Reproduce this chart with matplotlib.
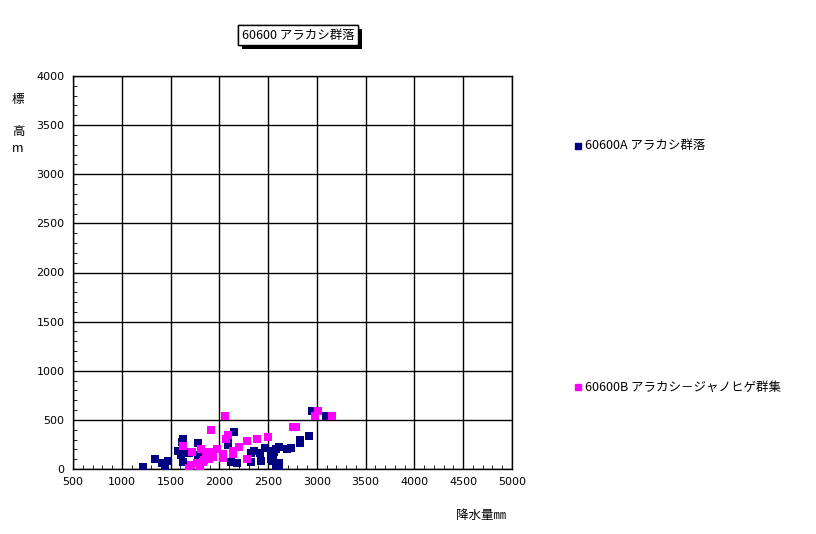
import matplotlib
matplotlib.use("Agg")
import matplotlib.pyplot as plt
from matplotlib.lines import Line2D
from matplotlib import patheffects as pe
from matplotlib.ticker import MultipleLocator

plt.rcParams['font.family'] = ['Noto Sans CJK JP', 'DejaVu Sans']

title = "60600 アラカシ群落"
series_a_name = "60600A アラカシ群落"
series_b_name = "60600B アラカシ－ジャノヒゲ群集"
xlabel = "降水量㎜"
ylabel_chars = ["標", "高", "m"]

a_x = [1220, 1340, 1415, 1443, 1477, 1573, 1607, 1624, 1620, 1631, 1648, 1686, 1778, 1784, 1800,
       2092, 2092, 2120, 2150, 2178, 2328, 2328, 2355, 2417, 2424, 2465, 2526, 2533, 2547, 2547,
       2560, 2581, 2581, 2608, 2615, 2615, 2690, 2731, 2827, 2827, 2916, 2950, 3093]
a_y = [20, 100, 64, 34, 85, 187, 142, 302, 275, 75, 176, 158, 268, 142, 120,
       244, 278, 75, 377, 64, 74, 160, 187, 163, 85, 210, 99, 183, 142, 85,
       176, 30, 200, 227, 64, 17, 204, 217, 261, 295, 339, 593, 539]

b_x = [1631, 1686, 1713, 1720, 1768, 1802, 1809, 1836, 1843, 1863, 1870, 1897, 1897, 1911, 1938,
       1979, 2040, 2040, 2055, 2068, 2086, 2137, 2143, 2201, 2280, 2280, 2389, 2499, 2758, 2786,
       3011, 2980, 3152]
b_y = [234, 10, 37, 173, 64, 30, 200, 74, 92, 146, 142, 173, 105, 397, 125,
       207, 152, 108, 539, 309, 349, 183, 152, 227, 288, 105, 309, 329, 431, 431,
       593, 535, 535]

x_ticks = [500, 1000, 1500, 2000, 2500, 3000, 3500, 4000, 4500, 5000]
y_ticks = [0, 500, 1000, 1500, 2000, 2500, 3000, 3500, 4000]

navy = "#000080"
magenta = "#FF00FF"

fig = plt.figure(figsize=(8.16, 5.34), dpi=100)
ax = fig.add_axes([73/816, 1 - 469/534, 439/816, 393/534])
ax.scatter(a_x, a_y, marker="s", s=26, color=navy, linewidths=0, zorder=3)
ax.scatter(b_x, b_y, marker="s", s=26, color=magenta, linewidths=0, zorder=4)

ax.set_xlim(500, 5000)
ax.set_ylim(0, 4000)
ax.set_xticks(x_ticks)
ax.set_yticks(y_ticks)
ax.set_xticklabels([str(v) for v in x_ticks], family='DejaVu Sans')
ax.set_yticklabels([str(v) for v in y_ticks], family='DejaVu Sans')
ax.xaxis.set_minor_locator(MultipleLocator(100))
ax.yaxis.set_minor_locator(MultipleLocator(100))
ax.grid(True, which='major', color='black', linewidth=1.0)
ax.tick_params(which='both', direction='in', labelsize=8, color='black')
ax.tick_params(which='major', length=0, pad=6)
ax.tick_params(which='minor', length=3)
for s in ax.spines.values():
    s.set_color('black')
    s.set_linewidth(1.0)

# title box
t = fig.text(298/816, 1 - 35/534, title, ha='center', va='center', fontsize=9,
             bbox=dict(boxstyle='square,pad=0.3', facecolor='white', edgecolor='black', linewidth=1))
t.get_bbox_patch().set_path_effects([pe.withSimplePatchShadow(offset=(3, -3), shadow_rgbFace='black', alpha=1.0), pe.Normal()])

# y label stacked
for ch, py in zip(ylabel_chars, [100, 131, 148]):
    fig.text(18/816, 1 - py/534, ch, ha='center', va='center', fontsize=9)

fig.text(481/816, 1 - 515/534, xlabel, ha='center', va='center', fontsize=9)

# legend entries
for name, col, py in [(series_a_name, navy, 146), (series_b_name, magenta, 387)]:
    fig.add_artist(Line2D([578/816], [1 - py/534], marker='s', markersize=4.5, color=col,
                          linestyle='none', transform=fig.transFigure))
    fig.text(585/816, 1 - py/534, name, ha='left', va='center', fontsize=9)

fig.savefig("out.png", dpi=100)
